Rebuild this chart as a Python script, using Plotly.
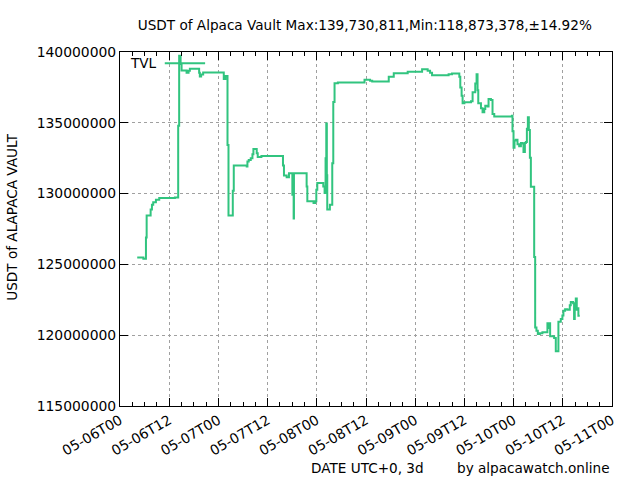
import pandas as pd
import plotly.graph_objects as go

# hours since 2022-05-06T00 (UTC) and TVL in millions of USDT
hours = [4.2, 5.7, 6.33, 6.5, 7.47, 7.79, 8.1, 8.76, 9.57, 13.39,
         14.19, 14.43, 14.78, 15.02, 16.24, 16.72, 17.04, 19.3, 19.47, 19.79,
         20.28, 25.31, 25.72, 26.22, 26.46, 27.51, 27.75, 30.91, 31.08, 31.4,
         31.89, 32.3, 32.54, 33.35, 33.59, 34.49, 39.75, 39.99, 40.65, 41.21,
         42.04, 42.18, 42.25, 42.35, 42.43, 45.52, 45.69, 47.2, 47.6, 47.88,
         48.12, 49.58, 49.9, 50.14, 50.31, 50.45, 50.55, 51.19, 51.77, 52.02,
         52.33, 53.14, 59.64, 61.0, 61.51, 65.55, 66.77, 70.17, 73.68, 75.04,
         75.63, 76.11, 80.15, 80.98, 82.76, 83.0, 83.32, 83.56, 84.0, 85.61,
         86.0, 86.65, 86.97, 87.21, 87.38, 88.04, 88.43, 88.85, 89.09, 89.65,
         89.89, 90.47, 90.86, 91.28, 95.59, 95.73, 95.98, 96.22, 96.56, 96.95,
         97.36, 97.78, 98.17, 98.41, 98.75, 98.99, 99.24, 99.48, 99.72, 99.97,
         100.21, 101.02, 101.26, 101.57, 101.91, 102.4, 103.03, 104.25, 104.49, 104.67,
         104.91, 105.88, 106.29, 106.93, 107.51, 107.9, 108.15, 108.56, 109.12, 109.7,
         109.95, 110.51, 110.75, 110.92, 111.17, 111.41, 111.56, 111.8, 112.14]

tvl_m = [125.48, 125.4, 126.9, 128.45, 128.87, 129.22, 129.39, 129.57, 129.69, 129.73,
         134.79, 139.73, 139.16, 138.69, 138.53, 138.67, 138.81, 138.53, 138.27, 138.41,
         138.55, 138.1, 138.3, 133.43, 128.45, 130.2, 131.98, 131.91, 132.26, 132.37,
         132.49, 132.78, 133.15, 132.85, 132.59, 132.66, 131.98, 131.28, 131.16, 131.44,
         129.92, 131.44, 129.92, 128.24, 131.44, 130.51, 129.46, 129.34, 129.46, 130.27,
         130.74, 130.51, 130.04, 132.5, 134.95, 131.3, 128.87, 129.22, 132.15, 136.47,
         137.8, 137.85, 138.04, 137.97, 137.92, 138.25, 138.5, 138.6, 138.79, 138.68,
         138.53, 138.36, 138.43, 138.48, 138.25, 137.5, 136.91, 136.38, 136.45, 136.52,
         137.15, 137.78, 138.43, 137.3, 136.38, 136.03, 135.74, 135.97, 136.21, 136.15,
         136.68, 136.61, 135.63, 135.44, 135.5, 134.41, 133.24, 133.75, 133.81, 133.48,
         133.34, 133.58, 133.53, 132.94, 133.58, 133.65, 134.58, 135.4, 134.5, 132.54,
         130.49, 125.53, 120.55, 120.32, 120.08, 120.13, 120.2, 120.85, 120.5, 120.85,
         119.92, 119.8, 118.87, 120.95, 121.14, 121.4, 121.72, 121.84, 121.8, 122.12,
         122.35, 122.25, 121.14, 122.2, 122.59, 121.8, 121.9, 121.37, 121.37]

start = pd.Timestamp("2022-05-06T00:00")
x = [start + pd.Timedelta(hours=h) for h in hours]
y = [v * 1e6 for v in tvl_m]

green = "#31c47f"
font = "DejaVu Sans"
fs = 13.6

fig = go.Figure()
fig.add_trace(go.Scatter(x=x, y=y, mode="lines", line_shape="hv",
                         line=dict(color=green, width=2), name="TVL",
                         showlegend=False))

fig.update_layout(
    width=640, height=480,
    margin=dict(l=120, r=28, t=52, b=74),
    paper_bgcolor="white", plot_bgcolor="white",
    font=dict(family=font, size=fs, color="black"),
    title=dict(text="USDT of Alpaca Vault Max:139,730,811,Min:118,873,378,±14.92%",
               x=0.57, xanchor="center", y=0.948, yanchor="middle",
               font=dict(size=fs), automargin=False),
    xaxis=dict(
        range=["2022-05-06T00:00", "2022-05-11T00:00"],
        dtick=12 * 3600 * 1000, tick0="2022-05-06T00:00",
        tickformat="%m-%dT%H", tickangle=-30, automargin=False,
        tickfont=dict(size=13.9),
        ticks="inside", ticklen=8, tickcolor="black",
        showline=True, linecolor="black", linewidth=1, mirror="ticks",
        showgrid=True, gridcolor="#a0a0a0", griddash="dot", gridwidth=1,
        minor=dict(dtick=3 * 3600 * 1000, ticks="inside", ticklen=4,
                   tickcolor="black", showgrid=False),
        zeroline=False,
    ),
    yaxis=dict(
        range=[115e6, 140e6], dtick=5e6, tickformat="d", automargin=False,
        tickfont=dict(size=13.9),
        ticks="inside", ticklen=8, tickcolor="black",
        showline=True, linecolor="black", linewidth=1, mirror="ticks",
        showgrid=True, gridcolor="#a0a0a0", griddash="dot", gridwidth=1,
        zeroline=False,
    ),
)

# y axis label placed like gnuplot's ylabel
fig.add_annotation(text="USDT of ALAPACA VAULT", xref="paper", yref="paper",
                   x=-0.22, y=0.534, xanchor="center", yanchor="middle",
                   textangle=-90, showarrow=False, font=dict(size=fs))

# gnuplot style key: text first, then line sample
fig.add_annotation(text="TVL", xref="paper", yref="paper", x=0.016, y=0.968,
                   xanchor="left", yanchor="middle", showarrow=False,
                   font=dict(size=fs))
fig.add_shape(type="line", xref="paper", yref="paper", x0=0.091, x1=0.173,
              y0=0.968, y1=0.968, line=dict(color=green, width=2))

fig.add_annotation(text="DATE UTC+0, 3d", xref="paper", yref="paper",
                   x=0.384, y=-0.175, xanchor="left", yanchor="middle",
                   showarrow=False, font=dict(size=fs))
fig.add_annotation(text="by alpacawatch.online", xref="paper", yref="paper",
                   x=1.0, y=-0.175, xanchor="right", yanchor="middle",
                   showarrow=False, font=dict(size=fs))

# drop the browser's default body margin so the 640x480 figure fills the window
fig.write_html("out.html", config={"displayModeBar": False},
               post_script="document.body.style.margin='0';")
